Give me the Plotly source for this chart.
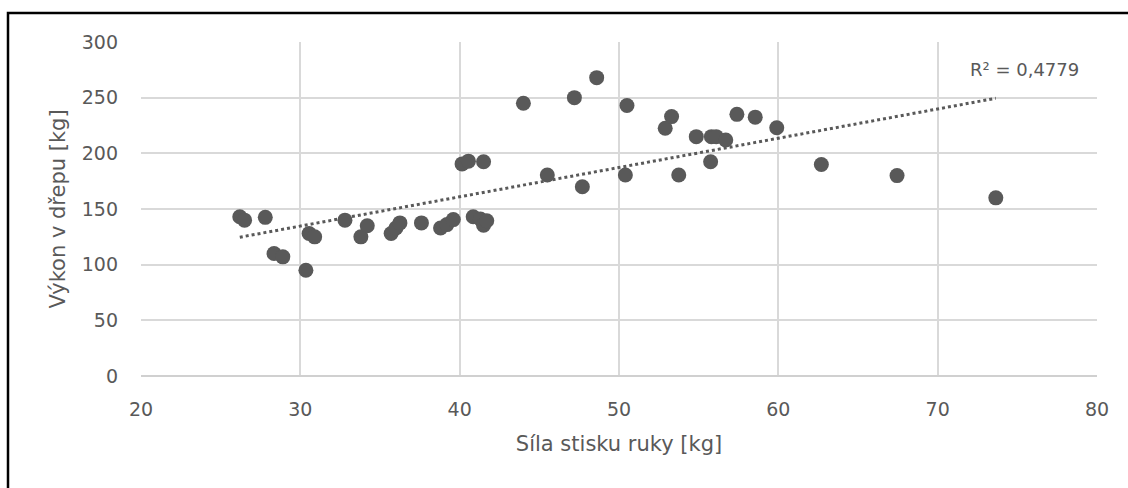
import numpy as np
import plotly.graph_objects as go

# Hand-grip strength [kg] vs. squat performance [kg]
grip = [26.2, 26.5, 27.8, 28.35, 28.9, 30.35, 30.55, 30.9, 32.8, 33.8,
        34.2, 35.7, 36.0, 36.25, 37.6, 38.8, 39.2, 39.6, 40.15, 40.55,
        40.85, 41.3, 41.5, 41.7, 41.5, 44.0, 45.5, 47.2, 47.7, 48.6,
        50.4, 50.5, 52.9, 53.3, 53.75, 54.85, 55.75, 55.8, 56.1, 56.7,
        57.4, 58.55, 59.9, 62.7, 67.45, 73.65]
squat = [143, 140, 142.5, 110, 107, 95, 128, 125, 140, 125,
         135, 128, 133, 137.5, 137.5, 133, 136, 140.5, 190.5, 193,
         143, 141, 135.5, 139.5, 192.5, 245, 180.5, 250, 170, 268,
         180.5, 243, 222.5, 233, 180.5, 215, 192.5, 215, 215, 212,
         235, 232.5, 223, 190, 180, 160]
r2_label = "R² = 0,4779"

x_ticks = [20, 30, 40, 50, 60, 70, 80]
y_ticks = [0, 50, 100, 150, 200, 250, 300]

grey = "#595959"
font = "DejaVu Sans"

# Linear trend across the range of the data
slope, intercept = np.polyfit(grip, squat, 1)
tx = np.array([min(grip), max(grip)])
ty = slope * tx + intercept

fig = go.Figure()
fig.add_trace(go.Scatter(
    x=tx, y=ty, mode="lines",
    line=dict(color=grey, width=3, dash="dot"),
    hoverinfo="skip", showlegend=False))
fig.add_trace(go.Scatter(
    x=grip, y=squat, mode="markers",
    marker=dict(color=grey, size=15, line=dict(width=0)),
    showlegend=False))

fig.add_annotation(
    x=79.0, y=275, xref="x", yref="y", text=r2_label, showarrow=False,
    xanchor="right", yanchor="middle",
    font=dict(family=font, size=18, color=grey))

W, H = 1128, 488
ml, mr, mt, mb = 141, 31, 42, 112
pw, ph = W - ml - mr, H - mt - mb

def px(xp):
    return (xp - ml) / pw

def py(yp):
    return 1 - (yp - mt) / ph

# Outer chart frame (left and top edges visible)
fig.add_shape(type="rect", xref="paper", yref="paper",
              x0=px(8), x1=px(W + 20), y0=py(13), y1=py(H + 20),
              line=dict(color="black", width=2.5), fillcolor="rgba(0,0,0,0)",
              layer="below")

fig.update_xaxes(
    range=[20, 80], tickvals=x_ticks, showgrid=True, gridcolor="#d9d9d9",
    gridwidth=1.5, zeroline=False, showline=False,
    tickfont=dict(family=font, size=19, color=grey), ticks="",
    ticklabelstandoff=20,
    title=dict(text="Síla stisku ruky [kg]", standoff=17,
               font=dict(family=font, size=21, color=grey)))
fig.update_yaxes(
    range=[0, 300], tickvals=y_ticks, showgrid=True, gridcolor="#d9d9d9",
    gridwidth=1.5, zeroline=True, zerolinecolor="#d0d0d0", zerolinewidth=2,
    showline=False,
    tickfont=dict(family=font, size=19, color=grey), ticks="",
    ticklabelstandoff=22,
    title=dict(text="Výkon v dřepu [kg]", standoff=10,
               font=dict(family=font, size=21, color=grey)))

fig.update_layout(
    width=W, height=H, margin=dict(l=ml, r=mr, t=mt, b=mb),
    paper_bgcolor="white", plot_bgcolor="white")

fig.write_html("out.html")
